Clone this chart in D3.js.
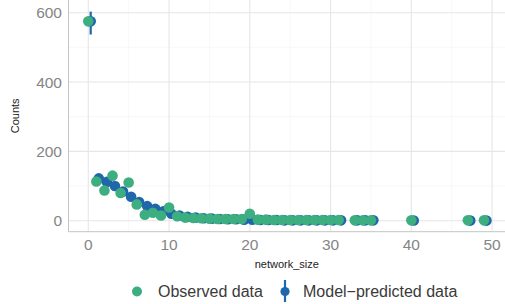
<!DOCTYPE html>
<html>
<head>
<meta charset="utf-8">
<script src="https://cdn.jsdelivr.net/npm/d3@7"></script>
<style>
  body { margin: 0; background: #fff; }
  svg { display: block; font-family: "Liberation Sans", Arial, sans-serif; }
</style>
</head>
<body>
<svg id="chart" width="505" height="304"></svg>
<script>
// observed counts per network size
var obsSize = [0,1,2,3,4,5,6,7,8,9,10,11,12,13,14,15,16,17,18,19,20,21,22,23,24,25,26,27,28,29,30,31,33,34,35,40,47,49];
var obsCount = [575,113,87,130,80,110,47,17,23,15,38,13,9,8,7,6,5,5,5,5,20,3,3,2,2,2,2,2,2,2,2,2,1,1,1,1,1,1];

// model-predicted counts (mean and interval)
var modelSize = obsSize;
var modelMean = [575,122,112,100,84,69,54,42,34,27,20,15,11,9,7,6,5,4,4,3,3,2,2,2,1,1,1,1,1,1,1,1,1,1,1,0.5,0.3,0.3];
var modelLow  = [537,112,103,92,77,62,48,37,29,23,16,12,8,6,5,4,3,2,2,1,1,1,1,1,0,0,0,0,0,0,0,0,0,0,0,0,0,0];
var modelHigh = [603,132,122,109,92,76,60,47,39,31,24,18,14,12,10,8,7,6,6,5,5,4,4,3,3,3,3,3,3,3,3,3,3,3,3,2,1,1];

var xTicks = [0,10,20,30,40,50];
var yTicks = [0,200,400,600];
var xMinor = [5,15,25,35,45];
var yMinor = [100,300,500];

var green = "#3cae80", blue = "#1f67aa";

var svg = d3.select("#chart");
var pLeft = 68.5, pRight = 505, pTop = 0, pBottom = 231.7;

var x = d3.scaleLinear().domain([-2.45, 51.6]).range([pLeft, pRight]);
var y = d3.scaleLinear().domain([-31.7, 636.6]).range([pBottom, pTop]);

// grid
var grid = svg.append("g");
grid.selectAll(".xm").data(xMinor).enter().append("line")
  .attr("x1", d => x(d)).attr("x2", d => x(d)).attr("y1", pTop).attr("y2", pBottom)
  .attr("stroke", "#f3f3f3").attr("stroke-width", 0.6);
grid.selectAll(".ym").data(yMinor).enter().append("line")
  .attr("y1", d => y(d)).attr("y2", d => y(d)).attr("x1", pLeft).attr("x2", pRight)
  .attr("stroke", "#f3f3f3").attr("stroke-width", 0.6);
grid.selectAll(".xg").data(xTicks).enter().append("line")
  .attr("x1", d => x(d)).attr("x2", d => x(d)).attr("y1", pTop).attr("y2", pBottom)
  .attr("stroke", "#e6e6e6").attr("stroke-width", 1.1);
grid.selectAll(".yg").data(yTicks).enter().append("line")
  .attr("y1", d => y(d)).attr("y2", d => y(d)).attr("x1", pLeft).attr("x2", pRight)
  .attr("stroke", "#e6e6e6").attr("stroke-width", 1.1);

// axis lines
svg.append("line").attr("x1", pLeft).attr("x2", pLeft).attr("y1", pTop).attr("y2", pBottom)
  .attr("stroke", "#c4c4c4").attr("stroke-width", 1);
svg.append("line").attr("x1", pLeft).attr("x2", pRight).attr("y1", pBottom).attr("y2", pBottom)
  .attr("stroke", "#c4c4c4").attr("stroke-width", 1);

// tick labels
svg.selectAll(".xt").data(xTicks).enter().append("text")
  .attr("x", d => x(d)).attr("y", 249.5).attr("text-anchor", "middle")
  .attr("font-size", 15.5).attr("fill", "#858585").text(d => d);
svg.selectAll(".yt").data(yTicks).enter().append("text")
  .attr("x", 62).attr("y", d => y(d) + 5.5).attr("text-anchor", "end")
  .attr("font-size", 15.5).attr("fill", "#858585").text(d => d);

// axis titles
svg.append("text").attr("x", (pLeft + pRight) / 2).attr("y", 268).attr("text-anchor", "middle")
  .attr("font-size", 11).attr("fill", "#222").text("network_size");
svg.append("text").attr("transform", "translate(19," + ((pTop + pBottom) / 2) + ") rotate(-90)")
  .attr("text-anchor", "middle").attr("font-size", 11).attr("fill", "#222").text("Counts");

// model predictions (drawn under the observed points)
var dodge = 0.3;
var model = svg.append("g");
modelSize.forEach(function(s, i) {
  model.append("line")
    .attr("x1", x(s + dodge)).attr("x2", x(s + dodge))
    .attr("y1", y(modelLow[i])).attr("y2", y(modelHigh[i]))
    .attr("stroke", blue).attr("stroke-width", 2.2);
  model.append("circle")
    .attr("cx", x(s + dodge)).attr("cy", y(modelMean[i])).attr("r", 5.3)
    .attr("fill", blue);
});

// observed
svg.append("g").selectAll("circle").data(obsSize).enter().append("circle")
  .attr("cx", d => x(d)).attr("cy", (d, i) => y(obsCount[i])).attr("r", 5.3)
  .attr("fill", green);

// legend
var lg = svg.append("g");
lg.append("circle").attr("cx", 137).attr("cy", 291.5).attr("r", 5).attr("fill", green);
lg.append("text").attr("x", 158).attr("y", 297).attr("font-size", 16).attr("fill", "#3a3a3a").text("Observed data");
lg.append("line").attr("x1", 285).attr("x2", 285).attr("y1", 280).attr("y2", 302)
  .attr("stroke", blue).attr("stroke-width", 2.2);
lg.append("circle").attr("cx", 285).attr("cy", 291.5).attr("r", 4.6).attr("fill", blue);
lg.append("text").attr("x", 303).attr("y", 297).attr("font-size", 16).attr("fill", "#3a3a3a").text("Model\u2212predicted data");
</script>
</body>
</html>
